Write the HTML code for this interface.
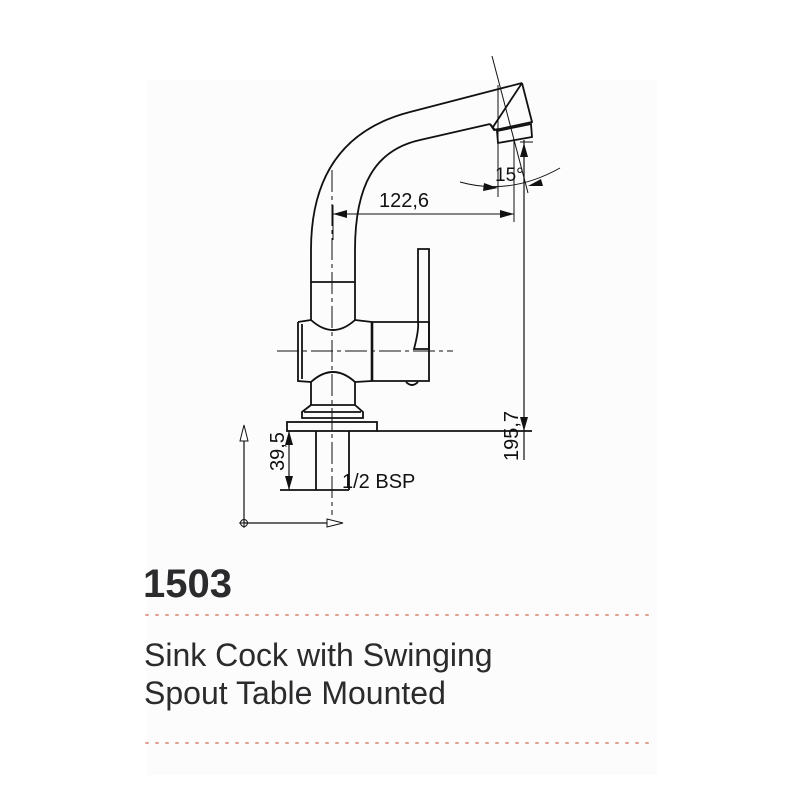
<!DOCTYPE html>
<html><head><meta charset="utf-8"><style>
html,body{margin:0;padding:0;background:#fff;}
.wrap{position:relative;width:800px;height:800px;background:#fff;}
.panel{position:absolute;left:147px;top:80px;width:510px;height:695px;background:#fcfcfc;}
svg{position:absolute;left:0;top:0;}
.t{position:absolute;font-family:"Liberation Sans Narrow","Liberation Sans",sans-serif;color:#2b2b2d;white-space:nowrap;}
</style></head><body><div class="wrap">
<div class="panel"></div>
<svg width="800" height="800" viewBox="0 0 800 800" fill="none" stroke="#111" stroke-width="1.8">
<!-- spout -->
<path d="M311 282 L311 250 C311 180 340 130 410 112 L522 83"/>
<path d="M355 282 L355 250 C355 185 375 150 420 140 L490 124"/>
<path d="M490 124 L494 130 L498 129"/>
<path d="M522 83 L532 122 L495 130 L490 124"/>
<path d="M522 83 L493 127"/>
<path d="M497 131 L531 124 L532 137 L498 143 Z"/>
<!-- pipe -->
<line x1="311" y1="282" x2="311" y2="320"/>
<line x1="355" y1="282" x2="355" y2="320"/>
<line x1="311" y1="282" x2="355" y2="282"/>
<!-- body -->
<path d="M311 320 Q333 340 355 320"/>
<path d="M298 322 L311 320 M355 320 L372 322"/>
<path d="M298 322 L298 381 L311 382 M355 382 L372 381"/>
<path d="M311 382 Q333 362 355 382"/>
<line x1="302" y1="324" x2="302" y2="379"/>
<line x1="372" y1="322" x2="372" y2="381" stroke-width="2.6"/>
<path d="M372 322 L429 322 L429 381 L372 381"/>
<path d="M418 322 L418 249 L429 249 L429 349 L414 349 Q419 330 418 322"/>
<path d="M406 382 Q412 388 418 382"/>
<!-- neck, nut -->
<line x1="311" y1="382" x2="311" y2="405"/><line x1="355" y1="382" x2="355" y2="405"/>
<path d="M311 405 L302 412 L302 418 L363 418 L363 412 L355 405 Z"/>
<line x1="304" y1="412" x2="361" y2="412"/>
<rect x="287" y="422" width="90" height="9"/>
<line x1="377" y1="431" x2="532" y2="431"/>
<!-- lower pipe -->
<path d="M316 431 L316 490 M349 431 L349 490"/>
<line x1="280" y1="490" x2="349" y2="490"/>
<!-- centerlines -->
<line x1="332" y1="170" x2="332" y2="515" stroke-width="1" stroke-dasharray="22 4 4 4"/>
<line x1="277" y1="351" x2="453" y2="351" stroke-width="1" stroke-dasharray="22 4 4 4"/>
<!-- dims -->
<line x1="333" y1="205" x2="333" y2="240" stroke-width="1"/>
<line x1="333" y1="214" x2="514" y2="214" stroke-width="1"/>
<path d="M333 214 L347 210 L347 218Z M514 214 L500 210 L500 218Z" fill="#111" stroke="none"/>
<line x1="514" y1="140" x2="514" y2="222" stroke-width="1"/>
<line x1="498" y1="85" x2="498" y2="197" stroke-width="1"/>
<line x1="492" y1="56" x2="528" y2="193" stroke-width="1"/>
<line x1="524" y1="140" x2="524" y2="460" stroke-width="1.2"/>
<line x1="520" y1="142" x2="533" y2="142" stroke-width="1"/>
<path d="M524 143 L520 157 L528 157Z M524 431 L520 417 L528 417Z" fill="#111" stroke="none"/>
<path d="M460 182 Q510 196 560 168" stroke-width="1"/>
<path d="M498 188 L484 183 L483 191Z M528 186 L541 179 L543 186Z" fill="#111" stroke="none"/>
<line x1="289" y1="431" x2="289" y2="490" stroke-width="1.2"/>
<path d="M289 431 L285 445 L293 445Z M289 490 L285 476 L293 476Z" fill="#111" stroke="none"/>
<!-- axes -->
<line x1="244" y1="523" x2="244" y2="440" stroke-width="1.2"/>
<path d="M244 425 L240 441 L248 441Z" stroke-width="1" fill="#fff"/>
<line x1="244" y1="523" x2="327" y2="523" stroke-width="1.2"/>
<path d="M343 523 L327 519 L327 527Z" stroke-width="1" fill="#fff"/>
<circle cx="244" cy="523" r="3.5" stroke-width="1"/>
<line x1="239" y1="523" x2="249" y2="523" stroke-width="1"/>
<line x1="244" y1="518" x2="244" y2="528" stroke-width="1"/>
<g font-family="Liberation Sans, sans-serif" font-size="20" fill="#111" stroke="none">
<text x="379" y="207">122,6</text>
<text x="495" y="181" font-size="19">15°</text>
<text x="342" y="488">1/2 BSP</text>
<text transform="translate(284,471) rotate(-90)">39,5</text>
<text transform="translate(518,461) rotate(-90)">195,7</text>
</g>
<g stroke="#e0a090" stroke-width="2" stroke-dasharray="2 8" stroke-linecap="round">
<line x1="146" y1="615" x2="652" y2="615"/>
<line x1="146" y1="743" x2="652" y2="743"/>
</g>
</svg>
<div class="t" style="left:143px;top:562px;font-size:40px;font-weight:bold;">1503</div>
<div class="t" style="left:144px;top:636px;font-size:32px;line-height:38px;">Sink Cock with Swinging<br>Spout Table Mounted</div>
</div></body></html>
